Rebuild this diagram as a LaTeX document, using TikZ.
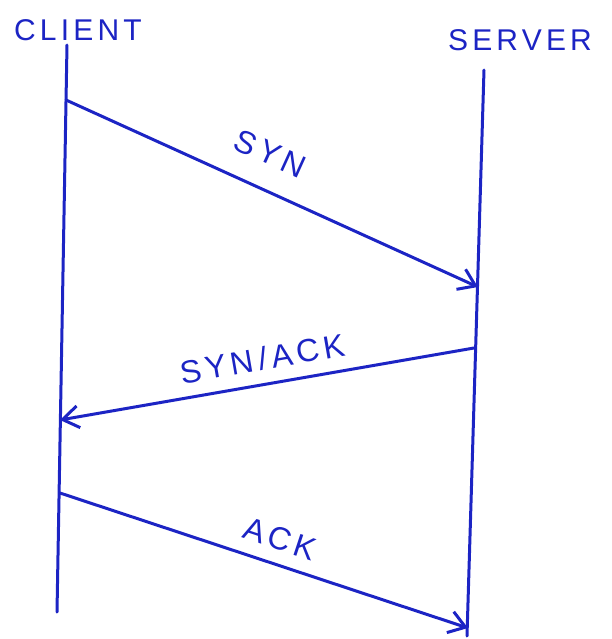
\documentclass[tikz,border=0pt]{standalone}
\usepackage{fontspec}
\setmainfont{Liberation Sans}
\usetikzlibrary{arrows.meta}
\definecolor{pen}{RGB}{28,36,196}

\begin{document}
\begin{tikzpicture}[x=0.5pt, y=-0.5pt, line width=1.5pt]
  \tikzstyle{host}=[text=pen, font=\fontsize{15}{15}\selectfont\addfontfeature{LetterSpace=14}]
  \tikzstyle{life}=[draw=pen, line cap=round]
  \tikzstyle{msg}=[draw=pen, line cap=round, -{Straight Barb[length=8pt, width=11pt, line width=1.5pt]}]
  \tikzstyle{tag}=[text=pen, font=\fontsize{16}{16}\selectfont\addfontfeature{LetterSpace=14}, sloped, above]
  \useasboundingbox (0,0) rectangle (612,639);
  \node[host] (client) at (78,30) {CLIENT};
  \node[host] (server) at (520,40) {SERVER};
  \coordinate (ctop) at (67,45);
  \coordinate (cbot) at (57,612);
  \coordinate (stop) at (484,70);
  \coordinate (sbot) at (467,636);
  \coordinate (syn0) at (66,100);
  \coordinate (syn1) at (478,287);
  \coordinate (sa0) at (474,348);
  \coordinate (sa1) at (60,420);
  \coordinate (ack0) at (60,493);
  \coordinate (ack1) at (468,628);
  \draw[life] (ctop) -- (cbot);
  \draw[life] (stop) -- (sbot);
  \draw[msg] (syn0) -- node[tag, pos=0.46, yshift=8pt] {SYN} (syn1);
  \draw[msg] (sa0) -- node[tag, pos=0.5, yshift=3pt] {SYN/ACK} (sa1);
  \draw[msg] (ack0) -- node[tag, pos=0.52, yshift=3pt] {ACK} (ack1);
\end{tikzpicture}
\end{document}
